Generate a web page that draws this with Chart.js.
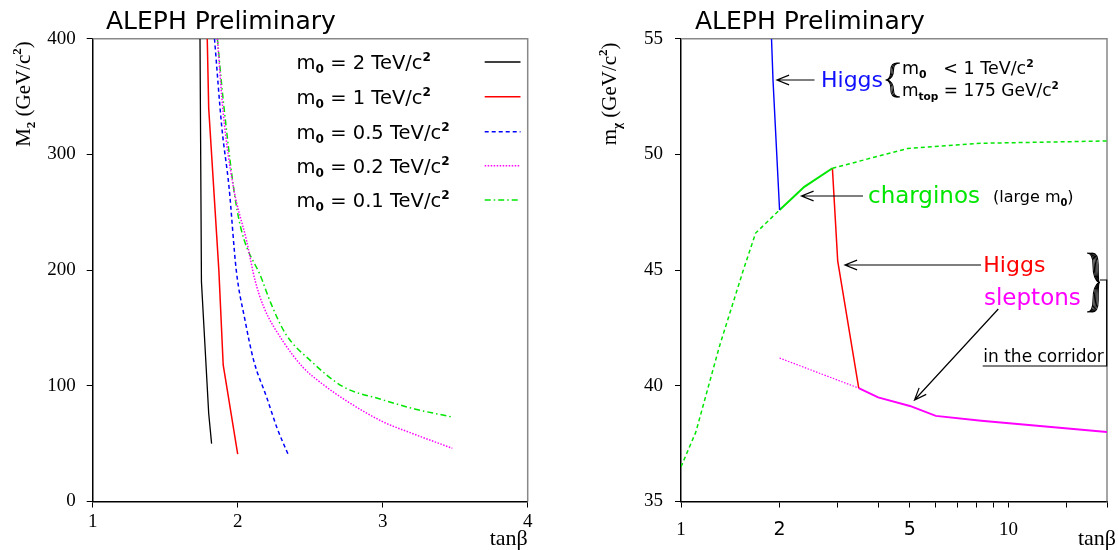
<!DOCTYPE html>
<html>
<head>
<meta charset="utf-8">
<title>ALEPH Preliminary</title>
<script src="https://cdn.jsdelivr.net/npm/chart.js@4.4.1/dist/chart.umd.min.js"></script>
<style>
  html, body { margin: 0; padding: 0; background: #fff; }
  #wrap { position: relative; width: 1118px; height: 550px; overflow: hidden; }
  #cLeft { position: absolute; left: 0; top: 0; }
  #cRight { position: absolute; left: 560px; top: 0; }
</style>
</head>
<body>
<div id="wrap">
  <canvas id="cLeft" width="560" height="550"></canvas>
  <canvas id="cRight" width="558" height="550"></canvas>
</div>
<script>
// ---- left panel: M2 limit vs tan(beta), one curve per m0 ----
const tanbM0_2 = [1.74, 1.75, 1.80, 1.82];
const m2M0_2 = [400, 190, 76, 50];
const tanbM0_1 = [1.79, 1.80, 1.87, 1.90, 2.00];
const m2M0_1 = [400, 340, 200, 118, 41];
const tanbM0_05 = [1.84, 1.89, 1.94, 1.99, 2.05, 2.11, 2.20, 2.27, 2.35];
const m2M0_05 = [400, 324, 272, 200, 157, 122, 90, 64, 40];
const tanbM0_02 = [1.86, 1.90, 1.97, 2.06, 2.12, 2.18, 2.31, 2.45, 2.58, 2.75, 3.00, 3.20, 3.48];
const m2M0_02 = [400, 336, 272, 226, 191, 168, 139, 116, 102, 87, 69, 59, 46];
const tanbM0_01 = [1.86, 1.90, 2.00, 2.17, 2.23, 2.33, 2.50, 2.73, 2.97, 3.22, 3.48];
const m2M0_01 = [400, 347, 249, 191, 171, 145, 122, 99, 89, 80, 73];
const legendM0 = ['2', '1', '0.5', '0.2', '0.1'];

// ---- right panel: m_chi limit vs tan(beta) ----
const tanbHiggsBlue = [1.89, 1.91, 2.00];
const mchiHiggsBlue = [55, 53.2, 47.6];
const tanbChargino = [1.0, 1.11, 1.31, 1.55, 1.69, 2.0, 2.38, 2.90, 4.93, 8.26, 20];
const mchiChargino = [36.5, 38.0, 41.7, 45.0, 46.6, 47.6, 48.6, 49.4, 50.26, 50.48, 50.58];
const tanbHiggsRed = [2.90, 3.01, 3.49];
const mchiHiggsRed = [49.4, 45.4, 39.9];
const tanbSlepton = [2.0, 3.49, 4.0, 5.0, 6.0, 8.26, 20];
const mchiSlepton = [41.2, 39.9, 39.5, 39.13, 38.7, 38.49, 38.0];
const rightTickLabels = [1, 2, 5, 10];
const sansTickLabels = [2, 5];

const serif = '"Liberation Serif", "DejaVu Serif", serif';
const sans = '"DejaVu Sans", sans-serif';
const GREEN = '#00e600';

function pts(xs, ys) {
  return xs.map((x, i) => ({ x: x, y: ys[i] }));
}

// text with sub/superscripts: parts = [[text, ''|'sub'|'sup'], ...]
function rich(ctx, x, y, parts, size, family, color, align) {
  const small = size * 0.62;
  let w = 0;
  parts.forEach(p => {
    ctx.font = (p[1] ? small : size) + 'px ' + family;
    w += ctx.measureText(p[0]).width;
  });
  let cx = x;
  if (align === 'center') cx = x - w / 2;
  if (align === 'right') cx = x - w;
  ctx.fillStyle = color;
  ctx.textAlign = 'left';
  ctx.textBaseline = 'alphabetic';
  parts.forEach(p => {
    let dy = 0;
    if (p[1] === 'sub') dy = size * 0.22;
    if (p[1] === 'sup') dy = -size * 0.42;
    ctx.font = (p[1] ? 'bold ' + small : size) + 'px ' + family;
    ctx.fillText(p[0], cx, y + dy);
    cx += ctx.measureText(p[0]).width;
  });
}

function arrow(ctx, x1, y1, x2, y2) {
  const a = Math.atan2(y2 - y1, x2 - x1);
  const L = 13, s = 0.38;
  ctx.beginPath();
  ctx.moveTo(x1, y1);
  ctx.lineTo(x2, y2);
  ctx.moveTo(x2 - L * Math.cos(a - s), y2 - L * Math.sin(a - s));
  ctx.lineTo(x2, y2);
  ctx.lineTo(x2 - L * Math.cos(a + s), y2 - L * Math.sin(a + s));
  ctx.strokeStyle = '#000';
  ctx.lineWidth = 1.2;
  ctx.stroke();
}

// curly brace, d = +1 tip to the right, -1 tip to the left
function brace(ctx, x0, y1, y2, w, d, copies) {
  const h = y2 - y1, ym = (y1 + y2) / 2;
  ctx.strokeStyle = '#000';
  ctx.lineWidth = 1.1;
  for (let k = 0; k < copies; k++) {
    const o = k * 1.3 * d;
    const xm = x0 + d * w * 0.5 + o;
    ctx.beginPath();
    ctx.moveTo(x0 + o, y1);
    ctx.quadraticCurveTo(xm, y1, xm, y1 + h * 0.2);
    ctx.quadraticCurveTo(xm, ym - h * 0.05, x0 + d * w, ym);
    ctx.quadraticCurveTo(xm, ym + h * 0.05, xm, y2 - h * 0.2);
    ctx.quadraticCurveTo(xm, y2, x0 + o, y2);
    ctx.stroke();
  }
}

function frame(chart) {
  const a = chart.chartArea, ctx = chart.ctx;
  ctx.save();
  ctx.strokeStyle = '#888';
  ctx.lineWidth = 1.5;
  ctx.beginPath();
  ctx.moveTo(a.left, a.top);
  ctx.lineTo(a.right, a.top);
  ctx.lineTo(a.right, a.bottom);
  ctx.stroke();
  ctx.restore();
}

function axisStyle(extra) {
  return Object.assign({
    grid: { display: true, drawOnChartArea: false, drawTicks: true, tickLength: 6, color: '#000', lineWidth: 1 },
    border: { display: true, color: '#000', width: 1.5 }
  }, extra);
}

const leftDecor = {
  id: 'leftDecor',
  beforeDatasetsDraw(chart) { frame(chart); },
  afterDraw(chart) {
    const ctx = chart.ctx;
    ctx.save();
    rich(ctx, 106, 29, [['ALEPH Preliminary', '']], 25, sans, '#000', 'left');
    // y title
    ctx.save();
    ctx.translate(30, 94);
    ctx.rotate(-Math.PI / 2);
    rich(ctx, 0, 0, [['M', ''], ['2', 'sub'], [' (GeV/c', ''], ['2', 'sup'], [')', '']], 21, serif, '#000', 'center');
    ctx.restore();
    rich(ctx, 527.7, 545, [['tanβ', '']], 22, serif, '#000', 'right');
    // legend
    const rows = [62, 96.7, 131.7, 165.7, 200];
    chart.data.datasets.forEach((ds, i) => {
      rich(ctx, 296.6, rows[i] + 7, [['m', ''], ['0', 'sub'], [' = ' + legendM0[i] + ' TeV/c', ''], ['2', 'sup']], 19.5, sans, '#000', 'left');
      ctx.beginPath();
      ctx.setLineDash(ds.borderDash || []);
      ctx.strokeStyle = ds.borderColor;
      ctx.lineWidth = ds.borderWidth;
      ctx.moveTo(484.7, rows[i]);
      ctx.lineTo(520.5, rows[i]);
      ctx.stroke();
    });
    ctx.setLineDash([]);
    ctx.restore();
  }
};

const rightDecor = {
  id: 'rightDecor',
  beforeDatasetsDraw(chart) { frame(chart); },
  afterDraw(chart) {
    const ctx = chart.ctx;
    ctx.save();
    rich(ctx, 135, 29, [['ALEPH Preliminary', '']], 25, sans, '#000', 'left');
    ctx.save();
    ctx.translate(56, 94);
    ctx.rotate(-Math.PI / 2);
    rich(ctx, 0, 0, [['m', ''], ['χ', 'sub'], [' (GeV/c', ''], ['2', 'sup'], [')', '']], 21, serif, '#000', 'center');
    ctx.restore();
    rich(ctx, 556, 545, [['tanβ', '']], 22, serif, '#000', 'right');

    // Higgs (blue) note
    arrow(ctx, 254.5, 80, 217, 80);
    rich(ctx, 261, 87, [['Higgs', '']], 22, sans, '#1010ff', 'left');
    brace(ctx, 340, 63, 97, 13, -1, 3);
    rich(ctx, 342, 74, [['m', ''], ['0', 'sub'], ['   < 1 TeV/c', ''], ['2', 'sup']], 17.5, sans, '#000', 'left');
    rich(ctx, 342, 96, [['m', ''], ['top', 'sub'], [' = 175 GeV/c', ''], ['2', 'sup']], 17, sans, '#000', 'left');

    // charginos note
    arrow(ctx, 303, 196, 241.5, 196);
    rich(ctx, 308, 203, [['charginos', '']], 23, sans, GREEN, 'left');
    rich(ctx, 433, 202, [['(large m', ''], ['0', 'sub'], [')', '']], 16, sans, '#000', 'left');

    // Higgs (red) + sleptons in the corridor
    arrow(ctx, 421, 265, 285, 265);
    rich(ctx, 423.3, 272, [['Higgs', '']], 22, sans, '#ff0000', 'left');
    rich(ctx, 424, 305, [['sleptons', '']], 23, sans, '#ff00ff', 'left');
    arrow(ctx, 438.3, 309, 354.5, 400);
    brace(ctx, 527, 253, 312, 12, 1, 5);
    ctx.beginPath();
    ctx.moveTo(540, 280);
    ctx.lineTo(546.7, 280);
    ctx.lineTo(546.7, 366);
    ctx.lineTo(422.7, 366);
    ctx.lineWidth = 1.2;
    ctx.strokeStyle = '#000';
    ctx.stroke();
    rich(ctx, 423.3, 361.5, [['in the corridor', '']], 17, sans, '#000', 'left');
    ctx.restore();
  }
};

new Chart(document.getElementById('cLeft'), {
  type: 'line',
  data: {
    datasets: [
      { label: 'm0 = 2 TeV/c2', data: pts(tanbM0_2, m2M0_2), borderColor: '#000000', borderWidth: 1.3 },
      { label: 'm0 = 1 TeV/c2', data: pts(tanbM0_1, m2M0_1), borderColor: '#ff0000', borderWidth: 1.5 },
      { label: 'm0 = 0.5 TeV/c2', data: pts(tanbM0_05, m2M0_05), borderColor: '#0000ff', borderWidth: 1.5,
        borderDash: [4, 3], cubicInterpolationMode: 'monotone' },
      { label: 'm0 = 0.2 TeV/c2', data: pts(tanbM0_02, m2M0_02), borderColor: '#ff00ff', borderWidth: 1.5,
        borderDash: [1.5, 1.5], cubicInterpolationMode: 'monotone' },
      { label: 'm0 = 0.1 TeV/c2', data: pts(tanbM0_01, m2M0_01), borderColor: GREEN, borderWidth: 1.5,
        borderDash: [6, 3, 1.5, 3], cubicInterpolationMode: 'monotone' }
    ]
  },
  options: {
    responsive: false,
    animation: false,
    layout: { padding: { left: 12.7, right: 32.3, top: 38.7, bottom: 0 } },
    elements: { point: { radius: 0 }, line: { tension: 0, fill: false } },
    plugins: { legend: { display: false }, tooltip: { enabled: false }, title: { display: false } },
    scales: {
      x: axisStyle({
        type: 'linear', min: 1, max: 4,
        afterFit(s) { s.height = 48.5; },
        ticks: { stepSize: 1, color: '#000', font: { family: serif, size: 19 }, padding: 3, maxRotation: 0 }
      }),
      y: axisStyle({
        type: 'linear', min: 0, max: 400,
        afterFit(s) { s.width = 80; },
        ticks: { stepSize: 100, color: '#000', font: { family: serif, size: 19 }, padding: 11 }
      })
    }
  },
  plugins: [leftDecor]
});

new Chart(document.getElementById('cRight'), {
  type: 'line',
  data: {
    datasets: [
      { label: 'Higgs (m0 < 1 TeV)', data: pts(tanbHiggsBlue, mchiHiggsBlue), borderColor: '#0000ff', borderWidth: 1.4 },
      { label: 'charginos', data: pts(tanbChargino, mchiChargino), borderColor: GREEN, borderWidth: 1.5,
        segment: {
          borderDash: c => (c.p0.parsed.x >= 1.999 && c.p1.parsed.x <= 2.901) ? [] : [4, 3],
          borderWidth: c => (c.p0.parsed.x >= 1.999 && c.p1.parsed.x <= 2.901) ? 2 : 1.5
        } },
      { label: 'Higgs', data: pts(tanbHiggsRed, mchiHiggsRed), borderColor: '#ff0000', borderWidth: 1.5 },
      { label: 'sleptons', data: pts(tanbSlepton, mchiSlepton), borderColor: '#ff00ff', borderWidth: 2,
        segment: {
          borderDash: c => c.p1.parsed.x <= 3.5 ? [1.5, 1.5] : [],
          borderWidth: c => c.p1.parsed.x <= 3.5 ? 1.2 : 2
        } }
    ]
  },
  options: {
    responsive: false,
    animation: false,
    layout: { padding: { left: 41, right: 2, top: 38.7, bottom: 0 } },
    elements: { point: { radius: 0 }, line: { tension: 0, fill: false } },
    plugins: { legend: { display: false }, tooltip: { enabled: false }, title: { display: false } },
    scales: {
      x: axisStyle({
        type: 'logarithmic', min: 1, max: 20,
        afterFit(s) { s.height = 48.5; },
        ticks: {
          autoSkip: false, maxRotation: 0, color: '#000', padding: 11,
          font: c => sansTickLabels.includes(c.tick && c.tick.value) ? { family: sans, size: 19 } : { family: serif, size: 19 },
          callback: v => rightTickLabels.includes(v) ? String(v) : ''
        }
      }),
      y: axisStyle({
        type: 'linear', min: 35, max: 55,
        afterFit(s) { s.width = 80; },
        ticks: { stepSize: 5, color: '#000', font: { family: serif, size: 19 }, padding: 12 }
      })
    }
  },
  plugins: [rightDecor]
});
</script>
</body>
</html>
